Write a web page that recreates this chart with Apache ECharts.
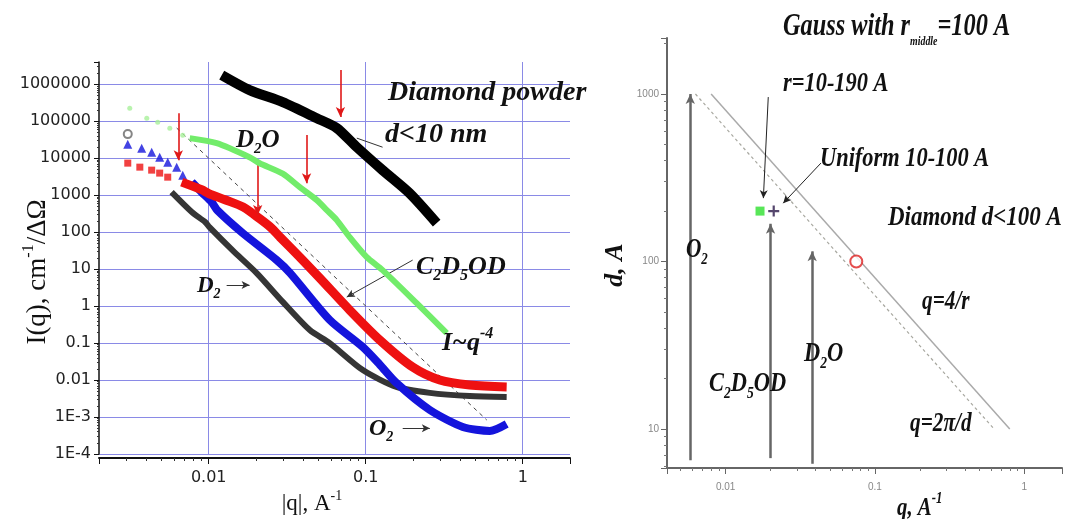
<!DOCTYPE html>
<html>
<head>
<meta charset="utf-8">
<script src="https://cdn.jsdelivr.net/npm/echarts@6/dist/echarts.min.js"></script>
<style>
html, body { margin: 0; padding: 0; background: #fff; }
#chart { width: 1065px; height: 519px; }
</style>
</head>
<body>
<div id="chart"></div>
<script>
// ---------- left panel: I(q) curves, [q, I] ----------
const diamondPowder = [[0.0121, 1.75e6], [0.0182, 6.9e5], [0.0296, 3.27e5], [0.0488, 1.2e5], [0.0654, 6.5e4],
    [0.0877, 1.98e4], [0.128, 4740], [0.19, 1130], [0.283, 175]];
const d2oSparse = [[0.00314, 224000], [0.00403, 120000], [0.00473, 94000], [0.00565, 64700], [0.00683, 41900]];
const d2oDense = [[0.00757, 34800], [0.01124, 25400], [0.0182, 10600], [0.0211, 7300], [0.0296, 3800], [0.038, 1640],
    [0.0488, 733], [0.0565, 394], [0.0654, 211], [0.079, 73], [0.1015, 21], [0.128, 9.4], [0.211, 1.2], [0.328, 0.186]];
const c2d5odSparse = [[0.00305, 7330], [0.00364, 5710], [0.00433, 4740], [0.00487, 3940], [0.00548, 3060]];
const c2d5odDense = [[0.00673, 2250], [0.009, 1400], [0.01, 1100], [0.0127, 750], [0.0165, 480], [0.0211, 230],
    [0.025, 130], [0.0283, 75], [0.038, 21], [0.051, 5.7], [0.079, 0.78], [0.123, 0.12], [0.199, 0.0224],
    [0.296, 0.01], [0.459, 0.0073], [0.79, 0.0065]];
const o2Sparse = [[0.00305, 23900], [0.00374, 18600], [0.00433, 14500], [0.00487, 10600], [0.00548, 7800],
    [0.00625, 5710], [0.00683, 3470]];
const o2Dense = [[0.0078, 2250], [0.009, 1200], [0.01045, 646], [0.0114, 380], [0.0165, 93], [0.0271, 17.5],
    [0.033, 7.8], [0.059, 0.42], [0.0958, 0.078], [0.123, 0.026], [0.157, 0.0083], [0.256, 0.00155],
    [0.415, 5.4e-4], [0.617, 4.2e-4], [0.79, 6.5e-4]];
const d2Sparse = [[0.00305, 44700]];
const d2Dense = [[0.0058, 1200], [0.0078, 348], [0.0095, 186], [0.0101, 136], [0.0142, 32], [0.0202, 7.8],
    [0.0296, 1.3], [0.044, 0.224], [0.059, 0.1], [0.0958, 0.0186], [0.157, 0.0065], [0.256, 0.0045],
    [0.459, 0.0037], [0.79, 0.0035]];
const powerLaw = [[0.00625, 65000], [0.59, 8.3e-4]];
// red markers: [q, I from, I to]
const redArrows = [[0.069, 2.4e6, 1.3e5], [0.0064, 1.64e5, 8800], [0.042, 4.2e4, 2100], [0.0205, 8800, 290]];
// thin pointers: [[q1, I1], [q2, I2], arrow?]
const leftPointers = [[[0.128, 19800], [0.0877, 34800], false], [[0.199, 17.5], [0.0757, 1.75], true],
    [[0.013, 3.7], [0.0182, 3.7], true], [[0.172, 5.0e-4], [0.256, 5.0e-4], true]];
const leftYLabels = ['1E-4', '1E-3', '0.01', '0.1', '1', '10', '100', '1000', '10000', '100000', '1000000'];
const leftXLabels = ['0.01', '0.1', '1'];

// ---------- right panel: d vs q ----------
const gaussPoint = [[0.017, 200]];
const uniformPoint = [[0.021, 200]];
const diamondPoint = [[0.075, 100]];
const q4rLine = [[0.008, 1000], [0.8, 10]];
const q2piLine = [[0.00628, 1000], [0.628, 10]];
// [q, d from, d to]
const cutoffArrows = [[0.0058, 6.5, 1000], [0.02, 6.7, 168], [0.038, 6.2, 115]];
const rightPointers = [[[0.0193, 959], [0.0179, 239]], [[0.0435, 387], [0.0243, 223]]];
const rightYLabels = ['10', '100', '1000'];
const rightXLabels = ['0.01', '0.1', '1'];

const chart = echarts.init(document.getElementById('chart'));

function decadeLabel(labels, lowExp) {
    return function (v) {
        const e = Math.log10(v);
        const r = Math.round(e);
        if (Math.abs(e - r) > 1e-6) return '';
        return labels[r - lowExp] || '';
    };
}

const serif = 'Liberation Serif';
function rich(fs, bold) {
    const base = { fontFamily: serif, fontStyle: bold ? 'italic' : 'normal', fontWeight: bold ? 'bold' : 'normal', fill: '#111', color: '#111' };
    return {
        m: Object.assign({}, base, { fontSize: fs, lineHeight: Math.round(fs * 1.3) }),
        s: Object.assign({}, base, { fontSize: Math.round(fs * 0.6), lineHeight: Math.round(fs * 0.6), verticalAlign: 'bottom' }),
        p: Object.assign({}, base, { fontSize: Math.round(fs * 0.6), lineHeight: Math.round(fs * 0.6), verticalAlign: 'top' }),
        t: Object.assign({}, base, { fontSize: Math.round(fs * 0.4), lineHeight: Math.round(fs * 0.4), verticalAlign: 'bottom' })
    };
}
function label(x, y, text, fs, opts) {
    opts = opts || {};
    return {
        type: 'text', x: x, y: y, rotation: opts.rotation || 0,
        scaleX: opts.scaleX || 1, silent: true, z: 100,
        style: {
            text: text, rich: rich(fs, opts.bold !== false),
            align: opts.align || 'left', verticalAlign: opts.va || 'top'
        }
    };
}

function arrowLines(list) {
    return list.map(a => [{ coord: [a[0], a[1]] }, { coord: [a[0], a[2]] }]);
}

const leftAxisFont = { fontFamily: 'DejaVu Sans', fontSize: 16, color: '#222' };
const rightAxisFont = { fontFamily: 'Liberation Sans Narrow, Liberation Sans', fontSize: 10, color: '#888' };

const option = {
    backgroundColor: '#fff',
    animation: false,
    grid: [
        { left: 99, top: 62, width: 471, height: 392 },
        { left: 667, top: 38, width: 398, height: 430 }
    ],
    xAxis: [
        {
            type: 'log', logBase: 10, gridIndex: 0, min: 0.002, max: 2, offset: 4,
            axisLine: { lineStyle: { color: '#111', width: 2 } },
            axisTick: { length: 6, lineStyle: { color: '#111' } },
            minorTick: { show: true, splitNumber: 9, length: 3, lineStyle: { color: '#333' } },
            axisLabel: Object.assign({ margin: 12, formatter: decadeLabel(leftXLabels, -2) }, leftAxisFont),
            splitLine: { show: true, showMinLine: false, showMaxLine: false, lineStyle: { color: '#8a8ae6', width: 1 } }
        },
        {
            type: 'log', logBase: 10, gridIndex: 1, min: 0.00405, max: 1.79,
            axisLine: { lineStyle: { color: '#666', width: 2 } },
            axisTick: { length: 6, lineStyle: { color: '#666' } },
            minorTick: { show: true, splitNumber: 9, length: 3, lineStyle: { color: '#777' } },
            axisLabel: Object.assign({ margin: 14, formatter: decadeLabel(rightXLabels, -2) }, rightAxisFont),
            splitLine: { show: false }
        }
    ],
    yAxis: [
        {
            type: 'log', logBase: 10, gridIndex: 0, min: 1e-4, max: 3.98e6, interval: 1,
            axisLine: { lineStyle: { color: '#111', width: 1.5 } },
            axisTick: { length: 5, lineStyle: { color: '#111' } },
            minorTick: { show: true, splitNumber: 9, length: 2, lineStyle: { color: '#333' } },
            axisLabel: Object.assign({ margin: 8, formatter: decadeLabel(leftYLabels, -4) }, leftAxisFont),
            splitLine: { show: true, showMinLine: true, showMaxLine: false, lineStyle: { color: '#8a8ae6', width: 1 } }
        },
        {
            type: 'log', logBase: 10, gridIndex: 1, min: 5.85, max: 2160,
            axisLine: { lineStyle: { color: '#666', width: 2 } },
            axisTick: { length: 6, lineStyle: { color: '#666' } },
            minorTick: { show: true, splitNumber: 9, length: 3, lineStyle: { color: '#777' } },
            axisLabel: Object.assign({ margin: 8, formatter: decadeLabel(rightYLabels, 1) }, rightAxisFont),
            splitLine: { show: false }
        }
    ],
    series: [
        // left panel
        { type: 'line', xAxisIndex: 0, yAxisIndex: 0, data: powerLaw, showSymbol: false, silent: true,
          lineStyle: { color: '#444', width: 1, type: [4, 4] }, z: 1 },
        { type: 'line', xAxisIndex: 0, yAxisIndex: 0, data: d2Dense, smooth: 0.25, showSymbol: false,
          lineStyle: { color: '#353535', width: 6 }, z: 2 },
        { type: 'scatter', xAxisIndex: 0, yAxisIndex: 0, data: d2Sparse, symbol: 'emptyCircle', symbolSize: 8,
          itemStyle: { color: '#666', borderWidth: 1.5 }, z: 2 },
        { type: 'line', xAxisIndex: 0, yAxisIndex: 0, data: o2Dense, smooth: 0.25, showSymbol: false,
          lineStyle: { color: '#1414dc', width: 8 }, z: 3 },
        { type: 'scatter', xAxisIndex: 0, yAxisIndex: 0, data: o2Sparse, symbol: 'triangle', symbolSize: 9,
          itemStyle: { color: '#1414dc' }, z: 3 },
        { type: 'line', xAxisIndex: 0, yAxisIndex: 0, data: c2d5odDense, smooth: 0.3, showSymbol: false,
          lineStyle: { color: '#ee1111', width: 9 }, z: 4 },
        { type: 'scatter', xAxisIndex: 0, yAxisIndex: 0, data: c2d5odSparse, symbol: 'rect', symbolSize: 7,
          itemStyle: { color: '#ee1111' }, z: 4 },
        { type: 'line', xAxisIndex: 0, yAxisIndex: 0, data: d2oDense, smooth: 0.25, showSymbol: false,
          lineStyle: { color: '#72ec6a', width: 6 }, z: 5 },
        { type: 'scatter', xAxisIndex: 0, yAxisIndex: 0, data: d2oSparse, symbol: 'circle', symbolSize: 5,
          itemStyle: { color: '#a8f09a' }, z: 5 },
        { type: 'line', xAxisIndex: 0, yAxisIndex: 0, data: diamondPowder, smooth: 0.25, showSymbol: false,
          lineStyle: { color: '#000', width: 10 }, z: 6 },
        { type: 'line', xAxisIndex: 0, yAxisIndex: 0, data: [], z: 7,
          markLine: { silent: true, symbol: ['none', 'arrow'], symbolSize: [7, 10], label: { show: false },
            lineStyle: { color: '#e01818', width: 1.6, type: 'solid' }, data: arrowLines(redArrows) } },
        { type: 'line', xAxisIndex: 0, yAxisIndex: 0, data: [], z: 7,
          markLine: { silent: true, symbolSize: [6, 8], label: { show: false },
            lineStyle: { color: '#333', width: 1, type: 'solid' },
            data: leftPointers.map(p => [{ coord: p[0], symbol: 'none' }, { coord: p[1], symbol: p[2] ? 'arrow' : 'none' }]) } },

        // right panel
        { type: 'line', xAxisIndex: 1, yAxisIndex: 1, data: q4rLine, showSymbol: false, silent: true,
          lineStyle: { color: '#aaa', width: 1.5 } },
        { type: 'line', xAxisIndex: 1, yAxisIndex: 1, data: q2piLine, showSymbol: false, silent: true,
          lineStyle: { color: '#a8a8a0', width: 1.2, type: [3, 3] } },
        { type: 'line', xAxisIndex: 1, yAxisIndex: 1, data: [],
          markLine: { silent: true, symbol: ['none', 'arrow'], symbolSize: [7, 10], label: { show: false },
            lineStyle: { color: '#666', width: 2.5, type: 'solid' }, data: arrowLines(cutoffArrows) } },
        { type: 'line', xAxisIndex: 1, yAxisIndex: 1, data: [],
          markLine: { silent: true, symbol: ['none', 'arrow'], symbolSize: [6, 8], label: { show: false },
            lineStyle: { color: '#222', width: 1, type: 'solid' },
            data: rightPointers.map(p => [{ coord: p[0] }, { coord: p[1] }]) } },
        { type: 'scatter', xAxisIndex: 1, yAxisIndex: 1, data: gaussPoint, symbol: 'rect', symbolSize: 9,
          itemStyle: { color: '#2ee02e' }, z: 5 },
        { type: 'scatter', xAxisIndex: 1, yAxisIndex: 1, data: uniformPoint,
          symbol: 'path://M4,0h2v4h4v2h-4v4h-2v-4h-4v-2h4z', symbolSize: 11,
          itemStyle: { color: '#2a1848' }, z: 5 },
        { type: 'scatter', xAxisIndex: 1, yAxisIndex: 1, data: diamondPoint, symbol: 'emptyCircle', symbolSize: 12,
          itemStyle: { color: '#dd2222', borderWidth: 2.5 }, z: 5 }
    ],
    graphic: [
        // left panel notes
        label(388, 75, '{m|Diamond powder}', 28),
        label(385, 117, '{m|d<10 nm}', 28),
        label(236, 124, '{m|D}{s|2}{m|O}', 25),
        label(416, 250, '{m|C}{s|2}{m|D}{s|5}{m|OD}', 26),
        label(197, 271, '{m|D}{s|2}', 23),
        label(442, 326, '{m|I~q}{p|-4}', 26),
        label(369, 413, '{m|O}{s|2}', 24),
        label(38, 272, '{m|I(q), cm}{p|-1}{m|/ΔΩ}', 27, { bold: false, rotation: Math.PI / 2, align: 'center', va: 'middle' }),
        label(312, 504, '{m||q|, A}{p|-1}', 23, { bold: false, align: 'center', va: 'middle' }),
        // right panel notes
        label(783, 6, '{m|Gauss with r}{t|middle}{m|=100 A}', 32, { scaleX: 0.76 }),
        label(783, 66, '{m|r=10-190 A}', 28, { scaleX: 0.8 }),
        label(820, 141, '{m|Uniform 10-100 A}', 28, { scaleX: 0.8 }),
        label(888, 200, '{m|Diamond d<100 A}', 28, { scaleX: 0.82 }),
        label(686, 232, '{m|O}{s|2}', 28, { scaleX: 0.76 }),
        label(922, 284, '{m|q=4/r}', 28, { scaleX: 0.76 }),
        label(709, 366, '{m|C}{s|2}{m|D}{s|5}{m|OD}', 28, { scaleX: 0.8 }),
        label(804, 336, '{m|D}{s|2}{m|O}', 28, { scaleX: 0.8 }),
        label(910, 406, '{m|q=2π/d}', 28, { scaleX: 0.76 }),
        label(615, 265, '{m|d, A}', 26, { scaleX: 1, rotation: Math.PI / 2, align: 'center', va: 'middle' }),
        label(897, 491, '{m|q, A}{p|-1}', 26, { scaleX: 0.8 })
    ]
};

chart.setOption(option);
</script>
</body>
</html>
